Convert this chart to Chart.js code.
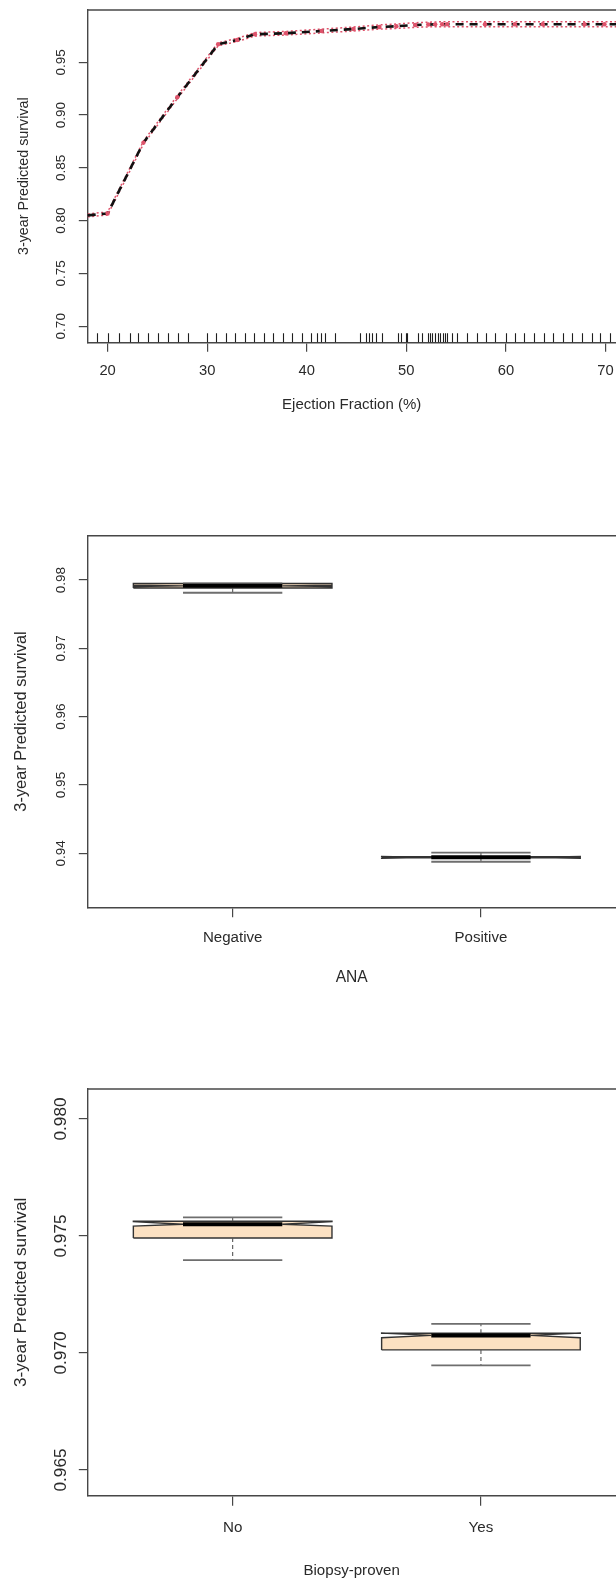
<!DOCTYPE html>
<html>
<head>
<meta charset="utf-8">
<script src="https://cdn.jsdelivr.net/npm/chart.js@4.4.0/dist/chart.umd.min.js"></script>
<style>
  html, body { margin: 0; padding: 0; background: #fff; overflow: hidden; }
  #page { position: relative; width: 616px; height: 1582px; }
  canvas { position: absolute; left: 0; }
</style>
</head>
<body>
<div id="page">
  <canvas id="efChart" width="616" height="420" style="top:0px;width:616px;height:420px"></canvas>
  <canvas id="anaChart" width="616" height="560" style="top:440px;width:616px;height:560px"></canvas>
  <canvas id="biopsyChart" width="616" height="572" style="top:1010px;width:616px;height:572px"></canvas>
</div>
<script>
const Chart = window.Chart;

// ---- panel 1: predicted survival by ejection fraction ----
const efGrid    = [18, 20, 23.6, 27.0, 31.1, 33.0, 34.8, 37.9, 41.5, 44.7, 47.3, 49.0, 50.9, 52.2, 52.9, 53.6, 54.1, 57.9, 60.9, 63.7, 67.9, 69.9, 72];
const survPred  = [0.8050, 0.8068, 0.8739, 0.9169, 0.9670, 0.9711, 0.9765, 0.9775, 0.9796, 0.9815, 0.9834, 0.9841, 0.9853, 0.9857, 0.9859, 0.9860, 0.9860, 0.9860, 0.9860, 0.9860, 0.9860, 0.9860, 0.9860];
const survUpper = [0.8064, 0.8082, 0.8753, 0.9183, 0.9684, 0.9726, 0.9781, 0.9792, 0.9814, 0.9834, 0.9854, 0.9862, 0.9875, 0.9879, 0.9882, 0.9883, 0.9884, 0.9884, 0.9884, 0.9884, 0.9884, 0.9884, 0.9884];
const survLower = [0.8036, 0.8054, 0.8725, 0.9155, 0.9656, 0.9696, 0.9749, 0.9758, 0.9778, 0.9796, 0.9814, 0.9820, 0.9831, 0.9835, 0.9836, 0.9837, 0.9837, 0.9837, 0.9837, 0.9837, 0.9837, 0.9837, 0.9837];
const efRug = [18.9, 20, 21.1, 22.2, 23.1, 24.1, 25.1, 26.1, 27.1, 28.1, 30, 30.9, 31.9, 32.8, 33.8, 34.7, 35.7, 36.6, 37.6, 38.5, 39.5, 40.4,
               41.05, 41.4, 41.8, 42.85, 45.3, 46.0, 46.3, 46.6, 47.0, 47.6, 49.15, 49.5, 50.0, 50.1, 51.2, 51.6, 52.15, 52.4, 52.6,
               52.9, 53.15, 53.4, 53.7, 53.9, 54.1, 54.6, 55.1, 56.1, 57.1, 58.0, 58.9, 60.0, 60.9, 61.8, 62.8, 63.8, 64.75, 65.7,
               66.65, 67.6, 68.6, 69.5, 70.5];
const efTicks = [20, 30, 40, 50, 60, 70];
const efSurvTicks = [0.70, 0.75, 0.80, 0.85, 0.90, 0.95];

// ---- panel 2: ANA ----
const anaGroups  = ['Negative', 'Positive'];
const anaUpper   = [0.97949, 0.94009];
const anaQ3      = [0.97949, 0.93949];
const anaNotchHi = [0.97925, 0.93953];
const anaMedian  = [0.97915, 0.93941];
const anaNotchLo = [0.97905, 0.93929];
const anaQ1      = [0.97883, 0.93933];
const anaLower   = [0.97814, 0.93877];
const anaTicks   = [0.94, 0.95, 0.96, 0.97, 0.98];

// ---- panel 3: biopsy-proven ----
const biopsyGroups  = ['No', 'Yes'];
const biopsyUpper   = [0.97579, 0.97124];
const biopsyQ3      = [0.97563, 0.97084];
const biopsyNotchHi = [0.97561, 0.97085];
const biopsyMedian  = [0.97550, 0.97075];
const biopsyNotchLo = [0.97542, 0.97065];
const biopsyQ1      = [0.97491, 0.97013];
const biopsyLower   = [0.97397, 0.96947];
const biopsyTicks   = [0.965, 0.970, 0.975, 0.980];

const AXIS = '#474747';
const TEXT = '#2a2a2a';
const RED = '#DF536B';
const BISQUE = '#FCE1C2';
const AREA_LEFT = 87.3;
const Y_LABEL_X = 61;

// use a narrow sans if the machine has one, otherwise shrink the regular one
const measureCtx = document.createElement('canvas').getContext('2d');
function textWidth(str, size, family) {
    measureCtx.font = size + 'px ' + family;
    return measureCtx.measureText(str).width;
}
const NARROW = textWidth('Ejection Fraction', 20, '"Liberation Sans Narrow"') <
               0.9 * textWidth('Ejection Fraction', 20, '"Liberation Sans"');
const FAMILY = NARROW ? '"Liberation Sans Narrow", "Liberation Sans", sans-serif' : '"Liberation Sans", Arial, sans-serif';
const K = NARROW ? 1 : 0.82;

function axes(p) {
    const sz = {};
    for (const k in p.sizes) sz[k] = p.sizes[k] * K;
    const yLabels = p.yTicks.map(p.yLabel);
    const widest = Math.max(...yLabels.map(s => textWidth(s, sz.yTick, FAMILY)));
    const yTickLen = 8.5;
    return {
        x: {
            type: 'linear', min: p.xMin, max: p.xMax, bounds: 'data',
            afterBuildTicks: s => { s.ticks = p.xTicks.map(v => ({ value: v })); },
            afterFit: s => { s.height = p.height - p.areaBottom; s.paddingLeft = 0; s.paddingRight = 0; },
            grid: { drawOnChartArea: false, drawTicks: true, tickLength: p.xTickLen, color: AXIS, lineWidth: 1.2 },
            border: { display: true, color: AXIS, width: 1.4 },
            ticks: {
                autoSkip: false, minRotation: 0, maxRotation: 0, color: TEXT,
                font: { family: FAMILY, size: sz.xTick },
                padding: p.xLabelY - p.areaBottom - p.xTickLen - sz.xTick * 0.6,
                callback: p.xLabel
            },
            title: {
                display: true, text: p.xTitle, color: TEXT,
                font: { family: FAMILY, size: sz.xTitle },
                padding: { top: 0, bottom: p.height - p.xTitleY - sz.xTitle * 0.6 }
            }
        },
        y: {
            type: 'linear', min: p.yMin, max: p.yMax, bounds: 'data',
            afterBuildTicks: s => { s.ticks = p.yTicks.map(v => ({ value: v })); },
            afterFit: s => { s.width = AREA_LEFT; s.paddingTop = 0; s.paddingBottom = 0; },
            grid: { drawOnChartArea: false, drawTicks: true, tickLength: yTickLen, color: AXIS, lineWidth: 1.2 },
            border: { display: true, color: AXIS, width: 1.4 },
            ticks: {
                autoSkip: false, minRotation: 90, maxRotation: 90, crossAlign: 'center', color: TEXT,
                font: { family: FAMILY, size: sz.yTick },
                padding: AREA_LEFT - yTickLen - widest / 2 - Y_LABEL_X,
                callback: p.yLabel
            },
            title: {
                display: true, text: '3-year Predicted survival', color: TEXT,
                font: { family: FAMILY, size: sz.yTitle },
                padding: { top: p.yTitleX - sz.yTitle * 0.6, bottom: 0 }
            }
        }
    };
}

// closes the plot box along the top edge
const frame = {
    id: 'frame',
    afterDatasetsDraw(chart) {
        const { ctx, chartArea: a } = chart;
        ctx.save();
        ctx.strokeStyle = AXIS;
        ctx.lineWidth = 1.4;
        ctx.beginPath();
        ctx.moveTo(a.left, a.top);
        ctx.lineTo(a.right + 2, a.top);
        ctx.stroke();
        ctx.restore();
    }
};

// rug of observed ejection fractions along the x axis
const rug = {
    id: 'rug',
    afterDatasetsDraw(chart) {
        const { ctx, chartArea: a, scales } = chart;
        ctx.save();
        ctx.strokeStyle = '#1e1e1e';
        ctx.lineWidth = 1.1;
        ctx.beginPath();
        efRug.forEach(v => {
            const px = Math.round(scales.x.getPixelForValue(v)) + 0.5;
            ctx.moveTo(px, a.bottom);
            ctx.lineTo(px, a.bottom - 9);
        });
        ctx.stroke();
        ctx.restore();
    }
};

const common = {
    responsive: false,
    animation: false,
    devicePixelRatio: 1,
    events: [],
    elements: { line: { tension: 0 }, point: { hoverRadius: 0 } },
    plugins: { legend: { display: false }, tooltip: { enabled: false } }
};

// ---- panel 1 ----
const pts = ys => efGrid.map((x, i) => ({ x, y: ys[i] }));
new Chart(document.getElementById('efChart'), {
    type: 'line',
    data: {
        datasets: [
            {
                data: pts(survPred), borderColor: '#111', borderWidth: 2.6, borderDash: [8, 6],
                pointRadius: c => (c.dataIndex > 0 && c.dataIndex < efGrid.length - 1) ? 2.2 : 0,
                pointBackgroundColor: RED, pointBorderWidth: 0, order: 1
            },
            { data: pts(survUpper), borderColor: RED, borderWidth: 1.5, borderDash: [2, 2.5], pointRadius: 0, order: 2 },
            { data: pts(survLower), borderColor: RED, borderWidth: 1.5, borderDash: [2, 2.5], pointRadius: 0, order: 3 }
        ]
    },
    options: {
        ...common,
        layout: { padding: { top: 10, left: 0, right: 0, bottom: 0 } },
        scales: axes({
            height: 420, areaBottom: 342.3, xLabelY: 371, xTitleY: 405, xTickLen: 9.5, yTitleX: 24,
            xMin: 17.96, xMax: 71.06, yMin: 0.6848, yMax: 0.9995,
            xTicks: efTicks, yTicks: efSurvTicks,
            xLabel: v => String(v), yLabel: v => v.toFixed(2),
            xTitle: 'Ejection Fraction (%)',
            sizes: { xTick: 18, xTitle: 18.3, yTick: 16.5, yTitle: 17.5 }
        })
    },
    plugins: [frame, rug]
});

// ---- notched boxplots, built as closed line shapes ----
const BOX = 0.4, NOTCH = 0.2, STAPLE = 0.2;
function boxDatasets(s, fill) {
    const sets = [];
    const whisk = [], staples = [], meds = [];
    s.q1.forEach((_, i) => {
        const c = i + 1;
        sets.push({
            data: [
                { x: c - BOX, y: s.q1[i] }, { x: c + BOX, y: s.q1[i] }, { x: c + BOX, y: s.lo[i] },
                { x: c + NOTCH, y: s.med[i] }, { x: c + BOX, y: s.hi[i] }, { x: c + BOX, y: s.q3[i] },
                { x: c - BOX, y: s.q3[i] }, { x: c - BOX, y: s.hi[i] }, { x: c - NOTCH, y: s.med[i] },
                { x: c - BOX, y: s.lo[i] }, { x: c - BOX, y: s.q1[i] }
            ],
            fill: 'shape', backgroundColor: fill, borderColor: '#333', borderWidth: 1.4,
            pointRadius: 0, order: 4
        });
        whisk.push({ x: c, y: s.q1[i] }, { x: c, y: s.lower[i] }, { x: c, y: null },
                   { x: c, y: s.q3[i] }, { x: c, y: s.upper[i] }, { x: c, y: null });
        staples.push({ x: c - STAPLE, y: s.lower[i] }, { x: c + STAPLE, y: s.lower[i] }, { x: c, y: null },
                     { x: c - STAPLE, y: s.upper[i] }, { x: c + STAPLE, y: s.upper[i] }, { x: c, y: null });
        meds.push({ x: c - NOTCH, y: s.med[i] }, { x: c + NOTCH, y: s.med[i] }, { x: c, y: null });
    });
    sets.push({ data: whisk, borderColor: '#555', borderWidth: 1.1, borderDash: [4, 3], pointRadius: 0, spanGaps: false, order: 3 });
    sets.push({ data: staples, borderColor: '#6e6e6e', borderWidth: 1.8, pointRadius: 0, spanGaps: false, order: 2 });
    sets.push({ data: meds, borderColor: '#000', borderWidth: 4, pointRadius: 0, spanGaps: false, order: 1 });
    return sets;
}

// ---- panel 2 ----
new Chart(document.getElementById('anaChart'), {
    type: 'line',
    data: {
        datasets: boxDatasets({
            upper: anaUpper, q3: anaQ3, hi: anaNotchHi, med: anaMedian,
            lo: anaNotchLo, q1: anaQ1, lower: anaLower
        }, BISQUE)
    },
    options: {
        ...common,
        layout: { padding: { top: 95.7, left: 0, right: 0, bottom: 0 } },
        scales: axes({
            height: 560, areaBottom: 467.3, xLabelY: 498, xTitleY: 537.5, xTickLen: 10, yTitleX: 21,
            xMin: 0.4145, xMax: 2.544, yMin: 0.9321, yMax: 0.98649,
            xTicks: [1, 2], yTicks: anaTicks,
            xLabel: v => anaGroups[v - 1], yLabel: v => v.toFixed(2),
            xTitle: 'ANA',
            sizes: { xTick: 18.4, xTitle: 19, yTick: 16.5, yTitle: 20 }
        })
    },
    plugins: [frame]
});

// ---- panel 3 ----
new Chart(document.getElementById('biopsyChart'), {
    type: 'line',
    data: {
        datasets: boxDatasets({
            upper: biopsyUpper, q3: biopsyQ3, hi: biopsyNotchHi, med: biopsyMedian,
            lo: biopsyNotchLo, q1: biopsyQ1, lower: biopsyLower
        }, BISQUE)
    },
    options: {
        ...common,
        layout: { padding: { top: 79, left: 0, right: 0, bottom: 0 } },
        scales: axes({
            height: 572, areaBottom: 485.7, xLabelY: 518, xTitleY: 561, xTickLen: 10, yTitleX: 21,
            xMin: 0.4145, xMax: 2.544, yMin: 0.9639, yMax: 0.98128,
            xTicks: [1, 2], yTicks: biopsyTicks,
            xLabel: v => biopsyGroups[v - 1], yLabel: v => v.toFixed(3),
            xTitle: 'Biopsy-proven',
            sizes: { xTick: 18.5, xTitle: 18.4, yTick: 21, yTitle: 21 }
        })
    },
    plugins: [frame]
});
</script>
</body>
</html>
